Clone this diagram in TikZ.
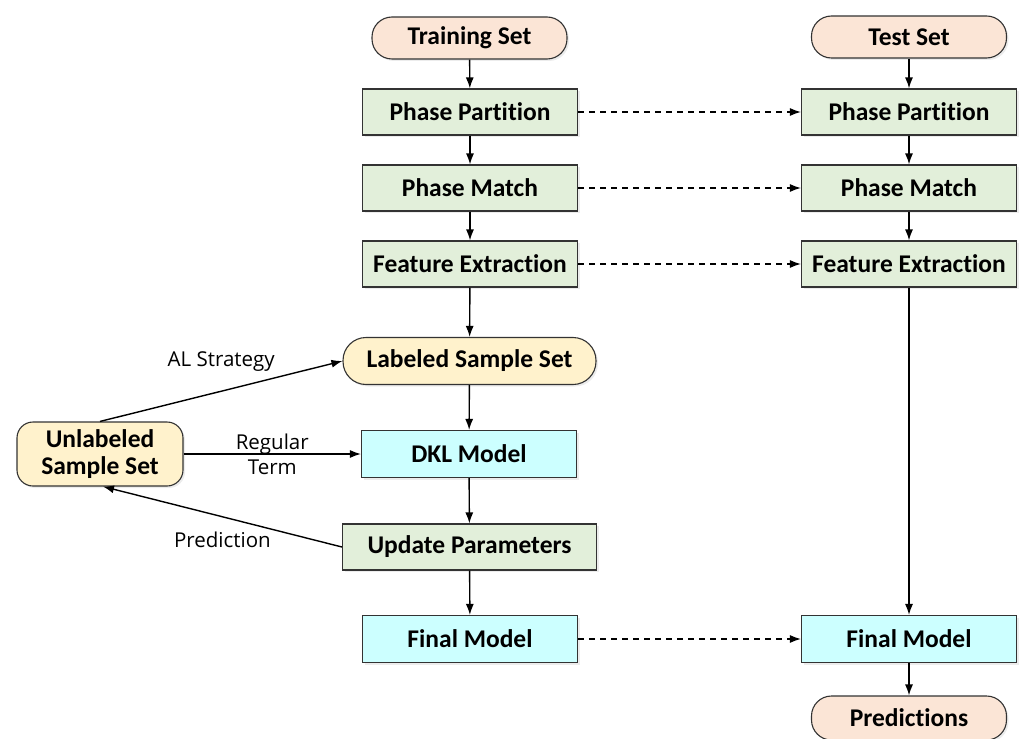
\documentclass[tikz,border=0pt]{standalone}
\usepackage{fontspec}
\setmainfont{Carlito}[Ligatures={NoCommon}]
\newfontfamily\labelfont{Open Sans}
\usepackage{tikz}
\usetikzlibrary{arrows.meta,shadows}

\definecolor{peach}{HTML}{FBE5D6}
\definecolor{paleGreen}{HTML}{E2EFDA}
\definecolor{paleCyan}{HTML}{CCFFFF}
\definecolor{paleYellow}{HTML}{FFF2CC}

\tikzset{
  box/.style={draw=black!80,line width=1.1pt,font=\fontsize{25.5}{27}\selectfont\bfseries,
    inner sep=0pt,align=center,
    drop shadow={opacity=0.15,shadow xshift=2pt,shadow yshift=-2pt}},
  proc/.style={box,fill=paleGreen,minimum width=215pt,minimum height=46pt},
  model/.style={box,fill=paleCyan,minimum width=215pt,minimum height=47pt},
  terminal/.style={box,fill=peach,rounded corners=20pt,minimum width=195pt,minimum height=42pt},
  sampleset/.style={box,fill=paleYellow,rounded corners=22pt,minimum height=47pt},
  link/.style={line width=1.4pt,-{Latex[length=11pt,width=8pt]}},
  dashlink/.style={link,dash pattern=on 6pt off 5pt},
  lbl/.style={font=\labelfont\fontsize{20.5}{25}\selectfont,align=center,inner sep=0pt}
}

\begin{document}
\begin{tikzpicture}[x=1pt,y=-1pt]
  \useasboundingbox (0,0) rectangle (1024,738);

  % ================= training column =================
  \node[terminal] (train) at (469.5,38) {Training Set};
  \node[proc] (pp1) at (470,112) {Phase Partition};
  \node[proc] (pm1) at (470,188) {Phase Match};
  \node[proc] (fe1) at (470,264) {Feature Extraction};
  \node[sampleset,minimum width=253pt,rounded corners=23pt] (lss) at (469.5,361) {Labeled Sample Set};
  \node[model] (dkl) at (469,454) {DKL Model};
  \node[proc,minimum width=254pt] (upd) at (469.5,547) {Update Parameters};
  \node[model] (fm1) at (470,639) {Final Model};

  % ================= test column =================
  \node[terminal] (test) at (909,37) {Test Set};
  \node[proc] (pp2) at (909,112) {Phase Partition};
  \node[proc] (pm2) at (909,188) {Phase Match};
  \node[proc] (fe2) at (909,264) {Feature Extraction};
  \node[model] (fm2) at (909,639) {Final Model};
  \node[terminal,minimum height=44pt] (pred) at (909,718) {Predictions};

  % ================= unlabeled pool =================
  \node[sampleset,rounded corners=16pt,minimum width=166pt,minimum height=64pt] (unl) at (100,454)
    {Unlabeled\\Sample Set};

  % ================= vertical flow =================
  \foreach \a/\b in {train/pp1,pp1/pm1,pm1/fe1,fe1/lss,lss/dkl,dkl/upd,upd/fm1,
                     test/pp2,pp2/pm2,pm2/fe2,fe2/fm2,fm2/pred}
    \draw[link] (\a) -- (\b);

  % ================= dashed transfer =================
  \foreach \a/\b in {pp1/pp2,pm1/pm2,fe1/fe2,fm1/fm2}
    \draw[dashlink] (\a) -- (\b);

  % ================= active learning loop =================
  \draw[link] (unl.north) -- (lss.west)
    node[lbl,midway,above=19pt] {AL Strategy};
  \draw[link] (unl) -- (dkl)
    node[lbl,midway] {Regular\\Term};
  \draw[link] (upd.west) -- ([xshift=3pt]unl.south)
    node[lbl,midway,below=14pt] {Prediction};

\end{tikzpicture}
\end{document}
